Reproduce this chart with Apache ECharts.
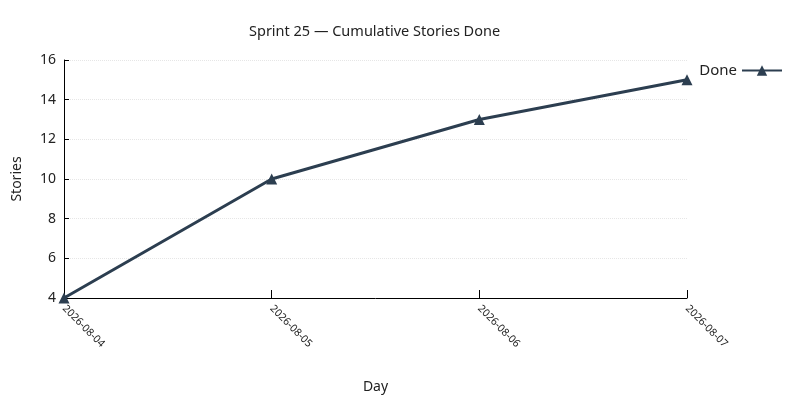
<!DOCTYPE html>
<html>
<head>
<meta charset="utf-8">
<script src="https://cdn.jsdelivr.net/npm/echarts@6/dist/echarts.min.js"></script>
<style>html,body{margin:0;padding:0;background:#fff}#chart{width:800px;height:400px}</style>
</head>
<body>
<div id="chart"></div>
<script>
const days=['2026-08-04','2026-08-05','2026-08-06','2026-08-07'];
const done=[4,10,13,15];
const FONT='"Noto Sans", "Open Sans", sans-serif';

var chart=echarts.init(document.getElementById('chart'));
chart.setOption({
    animation:false,
    textStyle:{fontFamily:FONT},
    title:{text:'Sprint 25 — Cumulative Stories Done',left:244,top:19,
        textStyle:{fontSize:14.5,fontWeight:'normal',color:'#222',fontFamily:FONT}},
    legend:{right:12,top:58,align:'right',itemWidth:40,itemHeight:13,itemGap:8,
        textStyle:{fontSize:15,color:'#222',fontFamily:FONT},data:['Done']},
    grid:{left:64,right:113,top:60,bottom:102},
    xAxis:{type:'category',data:days,boundaryGap:false,name:'Day',nameLocation:'middle',nameGap:82,
        nameTextStyle:{fontSize:14,color:'#222'},
        axisLine:{lineStyle:{color:'#000'}},
        axisTick:{inside:true,length:8,lineStyle:{color:'#000'}},
        axisLabel:{rotate:-45,fontSize:10.5,color:'#222',margin:9}},
    yAxis:{type:'value',min:4,max:16,interval:2,name:'Stories',nameLocation:'middle',nameGap:40,
        nameTextStyle:{fontSize:14,color:'#222'},
        axisLine:{show:true,lineStyle:{color:'#000'}},
        axisTick:{show:true,inside:true,length:5,lineStyle:{color:'#000'}},
        axisLabel:{fontSize:14,color:'#222',margin:8},
        splitLine:{lineStyle:{type:'dotted',color:'#e6e6e6'}}},
    series:[{name:'Done',type:'line',data:done,symbol:'triangle',symbolSize:11,
        lineStyle:{width:3,color:'#2c3e50'},itemStyle:{color:'#2c3e50'}}]
});
</script>
</body>
</html>
